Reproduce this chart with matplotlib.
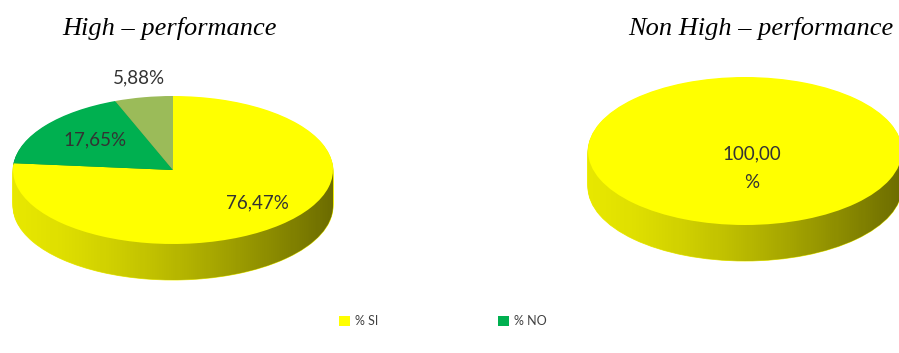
import numpy as np
import matplotlib
matplotlib.use("Agg")
import matplotlib.pyplot as plt
from matplotlib.patches import Rectangle, Wedge, Patch

# ---- data ----
titles = ["High – performance", "Non High – performance"]
legend_labels = ["% SI", "% NO"]
high_values = [76.47, 17.65, 5.88]      # SI, NO, other
non_high_values = [100.0]               # SI

top_colors = ["#FFFF00", "#00B050", "#9BBB59"]
side_colors = ["#EEEE00", "#00843C", "#7A9446"]

W, H = 899, 353
fig = plt.figure(figsize=(W / 100, H / 100), dpi=100)


def fmt(v):
    return f"{v:.2f}".replace(".", ",") + "%"


def pie3d(values, cx, cy, a, b, depth, label_pos, label_texts, ls=1.55):
    pad = 0.03
    Du = depth / b
    left = (cx - a * (1 + pad)) / W
    width = 2 * a * (1 + pad) / W
    top_px = cy - b * (1 + pad)
    bottom_px = cy + b * (1 + pad) + depth
    ax = fig.add_axes([left, (H - bottom_px) / H, width, (bottom_px - top_px) / H])
    n = len(values)
    nl = 30
    for k in range(nl, 0, -1):
        ax.pie(values, colors=side_colors[:n], startangle=90, counterclock=False,
               center=(0, -Du * k / nl), radius=1,
               wedgeprops=dict(linewidth=0.6, zorder=1))
        for w in ax.patches[-n:]:
            w.set_edgecolor(w.get_facecolor())
    # horizontal shading of the side wall
    grad = np.zeros((1, 256, 4))
    t = np.linspace(0, 1, 256)
    grad[..., 3] = 0.03 + 0.52 * t ** 1.4
    for clip in (Rectangle((-1, -Du), 2, Du, transform=ax.transData),
                 Wedge((0, -Du), 1, 180, 360, transform=ax.transData)):
        im = ax.imshow(grad, extent=(-1, 1, -Du - 1, 0), aspect="auto",
                       zorder=2, interpolation="bilinear")
        im.set_clip_path(clip)
    wedges, _ = ax.pie(values, colors=top_colors[:n], startangle=90,
                       counterclock=False, center=(0, 0), radius=1,
                       wedgeprops=dict(linewidth=0, zorder=3))
    for (x, y), s in zip(label_pos, label_texts):
        ax.text(x, y, s, ha="center", va="center", fontsize=13.5,
                color="#333333", family="Lato", zorder=5, linespacing=ls)
    ax.set_xlim(-1 - pad, 1 + pad)
    ax.set_ylim(-1 - Du - pad, 1 + pad)
    ax.set_aspect("auto")
    ax.axis("off")
    return wedges


pie3d(high_values, 173, 170, 160, 74, 36,
      [(0.53, -0.45), (-0.49, 0.41), (-0.21, 1.25)],
      [fmt(v) for v in high_values])
pie3d(non_high_values, 745, 151, 157, 74, 36,
      [(0.045, -0.23)],
      [fmt(non_high_values[0]).replace("%", "\n%")], ls=1.85)

for xc, s in zip([170, 761], titles):
    fig.text(xc / W, 1 - 29 / H, s, ha="center", va="center",
             family="Liberation Serif", style="italic", fontsize=19)

handles = [Patch(facecolor=top_colors[i], edgecolor="none") for i in range(2)]
fig.legend(handles, legend_labels, loc="center", bbox_to_anchor=(443 / W, 1 - 321 / H),
           ncol=2, frameon=False, prop=dict(family="Lato", size=9),
           labelcolor="#404040", handlelength=0.85, handleheight=0.85,
           handletextpad=0.4, columnspacing=9.6)

fig.savefig("out.png", dpi=100)
